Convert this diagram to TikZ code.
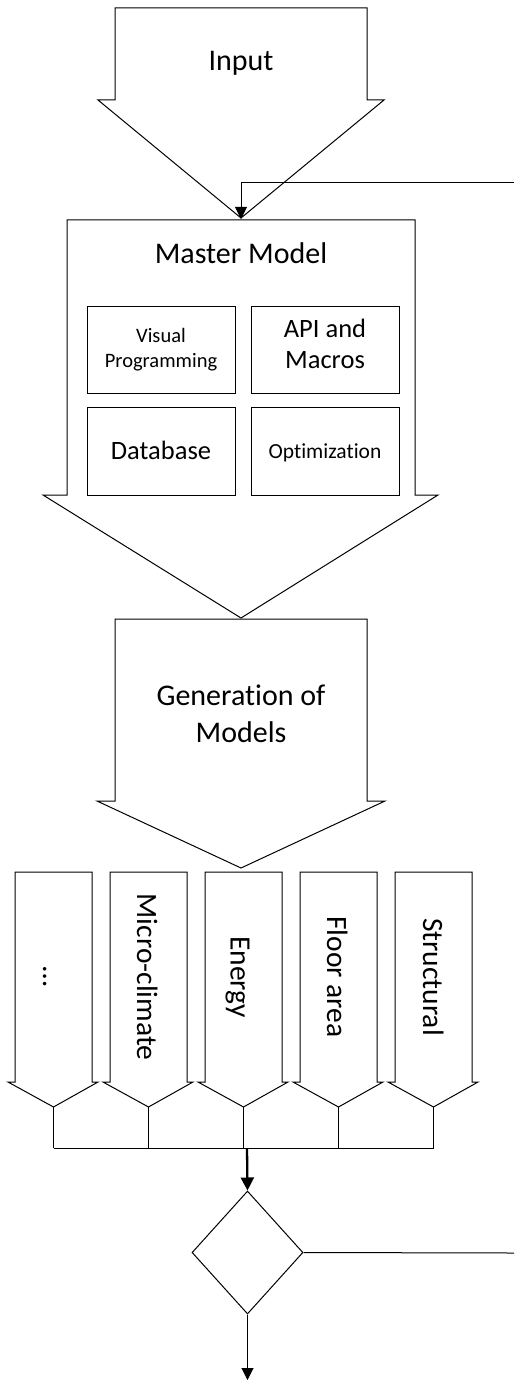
\documentclass[tikz,border=0pt]{standalone}
\usepackage{fontspec}
\setmainfont{Carlito}[Ligatures={NoCommon}]
\usetikzlibrary{arrows.meta,shapes.geometric}
\begin{document}
\begin{tikzpicture}[x=1pt,y=-1pt,
  line join=miter,
  blockarrow/.style={draw=black, fill=white, line width=1pt},
  innerbox/.style={draw=black, line width=1pt},
  bigtext/.style={font=\fontsize{30}{36.6}\selectfont, align=center, inner sep=0pt, anchor=base},
  midtext/.style={font=\fontsize{26.5}{31}\selectfont, align=center, inner sep=0pt, anchor=base},
  smalltext/.style={font=\fontsize{20.5}{25}\selectfont, align=center, inner sep=0pt, anchor=base},
  coltext/.style={font=\fontsize{29.5}{35}\selectfont, inner sep=0pt, anchor=base, rotate=-90},
  link/.style={draw=black, line width=1pt},
  flow/.style={draw=black, line width=1pt, -{Triangle[length=12pt,width=12pt]}},
  thickflow/.style={draw=black, line width=2.3pt, -{Triangle[length=13pt,width=13pt]}},
  decision/.style={diamond, draw=black, line width=1pt, inner sep=0pt,
    minimum width=111pt, minimum height=123pt}
]
\useasboundingbox (0,0) rectangle (514,1380);

% Input block arrow
\draw[blockarrow] (115,8) -- (367,8) -- (367,100) -- (384,100) -- (241,218)
  -- (98,100) -- (115,100) -- cycle;
\node[bigtext] (input) at (241,71) {Input};

% Master model block arrow with its four components
\draw[blockarrow] (67,220) -- (415,220) -- (415,495) -- (438,495) -- (241,618)
  -- (43,495) -- (67,495) -- cycle;
\coordinate (mmtop) at (241,219);
\node[bigtext] (master) at (241,263) {Master Model};
\draw[innerbox] (87,306) rectangle (235,393);
\draw[innerbox] (251,306) rectangle (399,393);
\draw[innerbox] (87,407) rectangle (235,495);
\draw[innerbox] (251,407) rectangle (399,495);
% multi-line labels are anchored at the baseline of their last line
\node[smalltext] (visprog) at (161,367) {Visual\\Programming};
\node[midtext] (api) at (325,368) {API and\\Macros};
\node[midtext] (db) at (161,459) {Database};
\node[smalltext, font=\fontsize{21.5}{25}\selectfont] (opt) at (325,458) {Optimization};

% Generation block arrow
\draw[blockarrow] (115,619) -- (367,619) -- (367,801) -- (385,801) -- (241,868)
  -- (97,801) -- (115,801) -- cycle;
\node[bigtext] (gen) at (241,742) {Generation of\\Models};

% Model columns
\foreach \i/\lbl/\dx in {0/{…}/10.5, 1/Micro-climate/11.5, 2/Energy/13, 3/Floor area/11.5, 4/Structural/10.5}{
  \pgfmathsetmacro{\xl}{15+95*\i}
  \pgfmathsetmacro{\xr}{\xl+77}
  \pgfmathsetmacro{\xc}{\xl+38.5}
  \draw[blockarrow] (\xl,872) -- (\xr,872) -- (\xr,1082) -- (\xr+6,1082) -- (\xc,1107)
    -- (\xl-7,1082) -- (\xl,1082) -- cycle;
  \coordinate (tip\i) at (\xc,1107);
  \coordinate (bus\i) at (\xc,1148);
  \node[coltext] (col\i) at (\xc-\dx,977) {\lbl};
  \draw[link] (tip\i) -- (bus\i);
}
\draw[link] (bus0) -- (bus4);

% Decision and feedback loop
\coordinate (busout) at (247,1148);
\node[decision] (check) at (247.5,1252.5) {};
\draw[thickflow] (busout) -- (check.north);
\coordinate (loopright) at (514,1253);
\draw[link] (check.east) -- (loopright);
\coordinate (looptop) at (514,183);
\draw[flow] (looptop) -| (mmtop);
\coordinate (out) at (247.5,1380);
\draw[flow] (check.south) -- (out);
\end{tikzpicture}
\end{document}
